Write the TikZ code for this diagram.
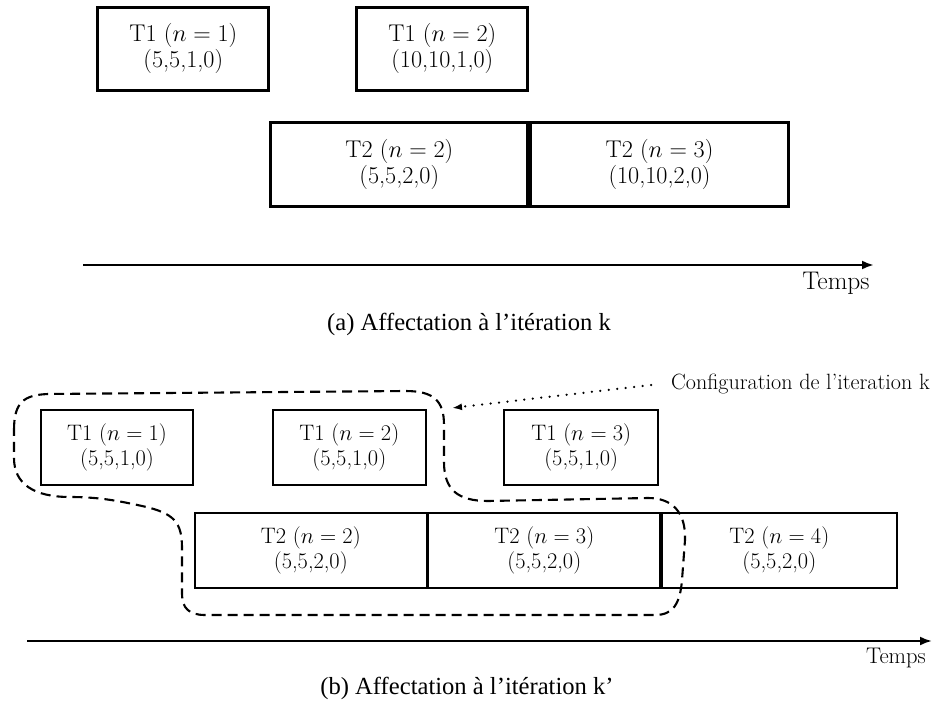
\RequirePackage{fix-cm}
\documentclass[tikz,border=0pt]{standalone}
\usepackage{fontspec}
\newfontfamily\capfont{Liberation Serif}
\usetikzlibrary{arrows.meta}

\tikzset{
  taskA/.style={draw, line width=2.7pt, inner sep=0pt, align=center,
    font=\fontsize{24.2}{26.3}\selectfont},
  taskB/.style={draw, line width=2pt, inner sep=0pt, align=center,
    font=\fontsize{22.4}{25.7}\selectfont},
  timeaxisA/.style={line width=2.6pt, -{Latex[length=12pt,width=9pt]}},
  timeaxisB/.style={line width=2.2pt, -{Latex[length=12pt,width=9pt]}},
  timelabel/.style={inner sep=0pt},
  caption/.style={inner sep=0pt, font=\capfont\fontsize{24.6}{28}\selectfont},
  group/.style={line width=2.1pt, dash pattern=on 10pt off 6pt},
  pointer/.style={line width=2.5pt, line cap=round, dash pattern=on 0pt off 8.5pt,
    -{Latex[length=10pt,width=7pt]}},
}

\begin{document}
\begin{tikzpicture}[x=1pt,y=-1pt]
\useasboundingbox (0,0) rectangle (944,711);

% ---- (a) iteration k
\node[taskA, minimum width=171pt, minimum height=83pt] (a11) at (183.3,48.8)
  {T1 ($n=1$)\\(5,5,1,0)};
\node[taskA, minimum width=171pt, minimum height=83pt] (a12) at (442.3,48.8)
  {T1 ($n=2$)\\(10,10,1,0)};
\node[taskA, minimum width=257pt, minimum height=84pt] (a22) at (399.3,164.7)
  {T2 ($n=2$)\\(5,5,2,0)};
\node[taskA, minimum width=258pt, minimum height=84pt] (a23) at (659.5,164.7)
  {T2 ($n=3$)\\(10,10,2,0)};

\coordinate (ta0) at (83,265);
\coordinate (ta1) at (874,265);
\draw[timeaxisA] (ta0) -- (ta1);
\node[timelabel, font=\fontsize{25.5}{28}\selectfont] (tla) at (836,283) {Temps};

\node[caption] (capa) at (469,324) {(a) Affectation à l’itération k};

% ---- (b) iteration k'
\node[taskB, minimum width=152.6pt, minimum height=75pt] (b11) at (117,447.5)
  {T1 ($n=1$)\\(5,5,1,0)};
\node[taskB, minimum width=153.3pt, minimum height=75pt] (b12) at (349.3,447.5)
  {T1 ($n=2$)\\(5,5,1,0)};
\node[taskB, minimum width=154.3pt, minimum height=75pt] (b13) at (581.2,447.5)
  {T1 ($n=3$)\\(5,5,1,0)};
\node[taskB, minimum width=231.7pt, minimum height=74.4pt] (b22) at (310.8,550.5)
  {T2 ($n=2$)\\(5,5,2,0)};
\node[taskB, minimum width=232pt, minimum height=74.4pt] (b23) at (544.3,550.5)
  {T2 ($n=3$)\\(5,5,2,0)};
\node[taskB, minimum width=235.5pt, minimum height=74.4pt] (b24) at (779.3,550.5)
  {T2 ($n=4$)\\(5,5,2,0)};

% outline of the configuration kept from iteration k
\draw[group]
  (14,430) .. controls (14,402) and (24,395) .. (48,394)
  -- (405,391) .. controls (433,391) and (444,400) .. (444,425)
  -- (444,462) .. controls (444,490) and (458,501) .. (488,501)
  -- (648,498) .. controls (672,498) and (686,512) .. (685,540)
  -- (682,580) .. controls (680,604) and (673,615) .. (655,615)
  -- (205,615) .. controls (189,615) and (182,608) .. (182,594)
  -- (182,548) .. controls (182,522) and (174,513) .. (142,506)
  .. controls (115,500) and (96,497) .. (70,497)
  .. controls (34,497) and (14,484) .. (14,458) -- cycle;

\node[anchor=west, inner sep=0pt, font=\fontsize{22.1}{25}\selectfont] (cfg)
  at (671,384) {Configuration de l'iteration k};
\coordinate (cfgtip) at (452,408);
\draw[pointer] ([xshift=-20pt,yshift=-1pt]cfg.west) -- (cfgtip);

\coordinate (tb0) at (27,641);
\coordinate (tb1) at (932,641);
\draw[timeaxisB] (tb0) -- (tb1);
\node[timelabel, font=\fontsize{22.6}{25}\selectfont] (tlb) at (896,658) {Temps};

\node[caption] (capb) at (467,688) {(b) Affectation à l’itération k’};
\end{tikzpicture}
\end{document}
